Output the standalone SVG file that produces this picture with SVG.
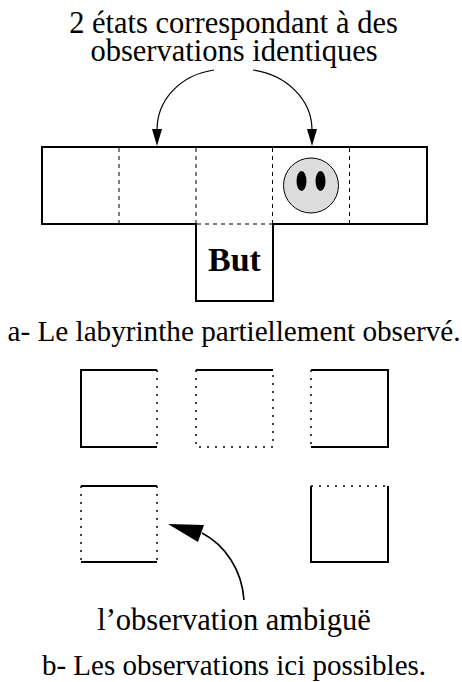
<svg xmlns="http://www.w3.org/2000/svg" width="462" height="682" viewBox="0 0 462 682">
<style>
text{font-family:"Liberation Serif","Times New Roman",serif;fill:#000;font-size:30.500px;text-anchor:middle}
.w{fill:none;stroke:#000;stroke-width:2}
.dash{fill:none;stroke:#000;stroke-width:1;stroke-dasharray:4 4}
.dot{fill:none;stroke:#000;stroke-width:1.500;stroke-dasharray:2 6}
.c{fill:none;stroke:#000;stroke-width:1.2}
.c2{fill:none;stroke:#000;stroke-width:1.6}
</style>
<rect width="462" height="682" fill="#fff"/>
<g id="titre"><text x="233.500" y="33">2 états correspondant à des</text><text x="234" y="61">observations identiques</text></g>
<g id="labyrinthe">
<path class="w" d="M196 224H42V147H427V224H273V301H196Z"/>
<path class="dash" d="M119 148V223M196 148V223M272.500 148V223M349.500 148V223M197 224H272"/>
</g>
<g id="but"><text x="234.500" y="271" style="font-weight:bold;font-size:34px">But</text></g>
<g id="agent">
<circle cx="311" cy="185.500" r="27.500" fill="#dcdcdc" stroke="#000" stroke-width="1"/>
<ellipse cx="301.500" cy="181" rx="5" ry="10"/><ellipse cx="320.500" cy="181" rx="5" ry="10"/>
</g>
<g id="connecteurs">
<path d="M214 70C180 75 157 100 157 130" class="c"/><path d="M152 129H162L157 146Z"/>
<path d="M253 70C287 75 312 100 312 130" class="c"/><path d="M307 129H317L312 146Z"/>
<path d="M244 600C242 570 225 545 202 533" class="c2"/><path d="M168 524L204 525L198 542Z"/>
</g>
<g id="legende-a"><text x="234" y="341" style="font-size:29.200px">a- Le labyrinthe partiellement observé.</text></g>
<g id="obs1"><path class="w" d="M157 370H81V447H157"/><path class="dot" d="M157 370V447"/></g>
<g id="obs2"><path class="w" d="M196 370H273"/><path class="dot" d="M196 370V447H273V370"/></g>
<g id="obs3"><path class="w" d="M311 370H388V447H311"/><path class="dot" d="M311 370V447"/></g>
<g id="obs4"><path class="w" d="M81 486H157M81 562H157"/><path class="dot" d="M81 486V562M157 486V562"/></g>
<g id="obs5"><path class="w" d="M311 486V562H388V486"/><path class="dot" d="M311 486H388"/></g>
<g id="legende-b"><text x="234" y="630">l’observation ambiguë</text><text x="234" y="675" style="font-size:29px">b- Les observations ici possibles.</text></g>
</svg>
